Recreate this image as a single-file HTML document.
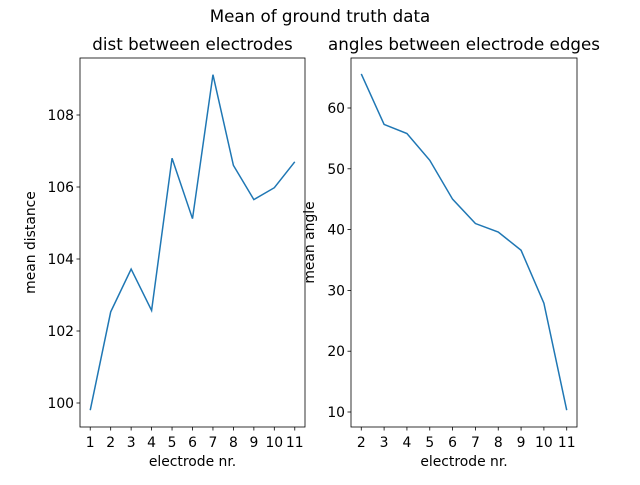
<!DOCTYPE html>
<html><head><meta charset="utf-8"><style>
body{margin:0;background:#fff;}
svg text{font-family:"DejaVu Sans","Liberation Sans",sans-serif;fill:#000;}
</style></head><body>
<svg id="fig" width="640" height="480" xmlns="http://www.w3.org/2000/svg">
<rect width="640" height="480" fill="#fff"/>
<text x="320" y="22" font-size="16.7" text-anchor="middle">Mean of ground truth data</text>
<g id="left"></g>
<g id="right"></g>
</svg>
<script>
const leftX=[1,2,3,4,5,6,7,8,9,10,11];
const leftY=[99.8,102.53,103.72,102.57,106.8,105.12,109.12,106.6,105.65,105.98,106.7];
const leftTicksY=[100,102,104,106,108];
const rightX=[2,3,4,5,6,7,8,9,10,11];
const rightY=[65.6,57.3,55.8,51.4,45.0,41.0,39.6,36.6,27.9,10.3];
const rightTicksY=[10,20,30,40,50,60];
const NS="http://www.w3.org/2000/svg";
function mk(p,t,a){const e=document.createElementNS(NS,t);for(const k in a)e.setAttribute(k,a[k]);p.appendChild(e);return e;}
function draw(g,cfg){
  const {x0,x1,y0,y1,xs,ys,ticksY,xv0,xv1,yv0,yv1,title,ylabel,name}=cfg;
  const sx=v=>x0+(v-xv0)/(xv1-xv0)*(x1-x0);
  const sy=v=>y1-(v-yv0)/(yv1-yv0)*(y1-y0);
  const r=mk(g,'rect',{x:x0,y:y0,width:x1-x0,height:y1-y0,fill:'none',stroke:'#000','stroke-width':0.8});
  
  
  xs.forEach(v=>{
    mk(g,'line',{x1:sx(v),x2:sx(v),y1:y1,y2:y1+3.5,stroke:'#000','stroke-width':0.8});
    const t=mk(g,'text',{x:sx(v),y:y1+20,'font-size':13.9,'text-anchor':'middle'});t.textContent=v;
    
    
  });
  ticksY.forEach(v=>{
    mk(g,'line',{x1:x0-3.5,x2:x0,y1:sy(v),y2:sy(v),stroke:'#000','stroke-width':0.8});
    const t=mk(g,'text',{x:x0-6,y:sy(v)+5,'font-size':13.9,'text-anchor':'end'});t.textContent=v;
    
    
  });
  const pl=mk(g,'polyline',{points:xs.map((v,i)=>sx(v)+','+sy(ys[i])).join(' '),fill:'none',stroke:'#1f77b4','stroke-width':1.5});
  
  
  const tt=mk(g,'text',{x:(x0+x1)/2,y:y0-8,'font-size':16.7,'text-anchor':'middle'});tt.textContent=title;
  
  
  const xl=mk(g,'text',{x:(x0+x1)/2,y:y1+39,'font-size':13.9,'text-anchor':'middle'});xl.textContent='electrode nr.';
  
  
  const yl=mk(g,'text',{x:0,y:0,'font-size':13.9,'text-anchor':'middle',transform:`translate(${cfg.ylx},${(y0+y1)/2}) rotate(-90)`});yl.textContent=ylabel;
  
  
}
draw(document.getElementById('left'),{x0:80,x1:305,y0:58,y1:427,xs:leftX,ys:leftY,ticksY:leftTicksY,
 xv0:0.5,xv1:11.5,title:'dist between electrodes',ylabel:'mean distance',name:'left',ylx:35,
 ...(()=>{const yv0=100-(427-403)/36,yv1=100+(403-58)/36;return{yv0,yv1};})()});
draw(document.getElementById('right'),{x0:351,x1:577,y0:58,y1:427,xs:rightX,ys:rightY,ticksY:rightTicksY,
 xv0:1.55,xv1:11.45,title:'angles between electrode edges',ylabel:'mean angle',name:'right',ylx:314,
 ...(()=>{const p=6.08,yv0=10-(427-412)/p,yv1=10+(412-58)/p;return{yv0,yv1};})()});
</script>
</body></html>
